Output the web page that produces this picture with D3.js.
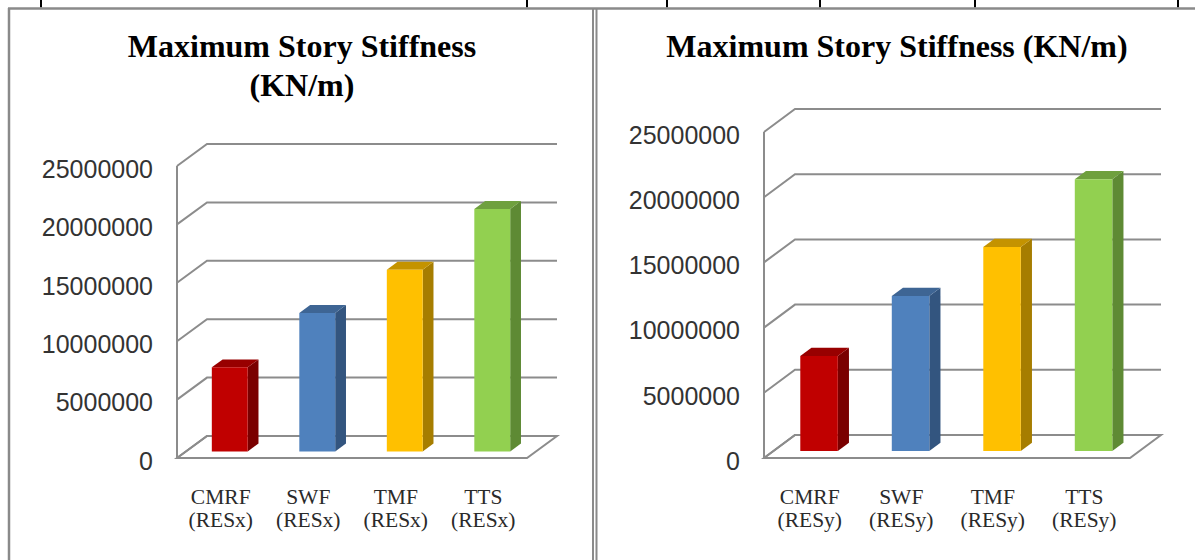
<!DOCTYPE html>
<html>
<head>
<meta charset="utf-8">
<script src="https://cdn.jsdelivr.net/npm/d3@7"></script>
<style>
  html, body { margin: 0; padding: 0; background: #ffffff; }
  svg { display: block; }
</style>
</head>
<body>
<svg id="chart" width="1195" height="560"></svg>
<script>
// ---- data ----
const categories = ["CMRF", "SWF", "TMF", "TTS"];
const stiffnessRESx = [7200000, 11850000, 15550000, 20750000];
const stiffnessRESy = [7300000, 11900000, 15650000, 20850000];
const yTicks = [0, 5000000, 10000000, 15000000, 20000000, 25000000];
const titleLinesX = ["Maximum Story Stiffness", "(KN/m)"];
const titleLinesY = ["Maximum Story Stiffness (KN/m)"];

// face colours per category: front, side, top
const frontColors = ["#C00000", "#4F81BD", "#FFC000", "#92D050"];
const sideColors  = ["#7A0000", "#33557F", "#A67D00", "#5E8A34"];
const topColors   = ["#980000", "#3E6594", "#C49300", "#6FA03E"];

const svg = d3.select("#chart");
const gridColor = "#8c8c8c";

// ---- page frame: table rules and the two panel borders ----
const frame = svg.append("g");
[41, 527, 667, 820, 975, 1178].forEach(x => {
  frame.append("line").attr("x1", x).attr("x2", x).attr("y1", 0).attr("y2", 7.5)
    .attr("stroke", "#000").attr("stroke-width", 2);
});
frame.append("line").attr("x1", 8).attr("x2", 1195).attr("y1", 8.5).attr("y2", 8.5)
  .attr("stroke", "#8a8a8a").attr("stroke-width", 2.5);
frame.append("line").attr("x1", 9).attr("x2", 9).attr("y1", 8).attr("y2", 560)
  .attr("stroke", "#8a8a8a").attr("stroke-width", 2.5);
frame.append("line").attr("x1", 593).attr("x2", 593).attr("y1", 8).attr("y2", 560)
  .attr("stroke", "#8a8a8a").attr("stroke-width", 2);
frame.append("line").attr("x1", 596.5).attr("x2", 596.5).attr("y1", 8).attr("y2", 560)
  .attr("stroke", "#8a8a8a").attr("stroke-width", 2);

// ---- one 3-D column chart ----
function drawPanel(cfg) {
  const g = svg.append("g");

  // front-plane scales
  const x = d3.scaleBand().domain(categories).range([cfg.axisX, cfg.floorRight]);
  const y = d3.scaleLinear().domain([0, 25000000]).range([cfg.zeroY, cfg.topY]);
  // depth projection: fraction 0 = front plane, 1 = back wall
  const proj = (px, py, f) => [px + f * cfg.dx, py + f * cfg.dy];
  const line = d3.line();

  // title
  const title = g.append("text")
    .attr("text-anchor", "middle")
    .attr("font-family", "'Liberation Serif', 'Times New Roman', serif")
    .attr("font-weight", "bold")
    .attr("font-size", 32)
    .attr("fill", "#000");
  cfg.title.forEach((t, i) => {
    title.append("tspan").attr("x", cfg.titleX).attr("y", cfg.titleY + i * 39).text(t);
  });

  // floor
  const floorPts = [
    [cfg.axisX, y(0)],
    proj(cfg.axisX, y(0), 1),
    proj(cfg.floorRight, y(0), 1),
    [cfg.floorRight, y(0)]
  ];
  g.append("path").attr("d", line(floorPts) + "Z")
    .attr("fill", "none").attr("stroke", gridColor).attr("stroke-width", 2)
    .attr("stroke-linejoin", "miter");

  // side wall edges and back-wall gridlines
  yTicks.forEach(v => {
    const pts = [[cfg.axisX, y(v)], proj(cfg.axisX, y(v), 1), proj(cfg.floorRight, y(v), 1)];
    g.append("path").attr("d", line(pts))
      .attr("fill", "none").attr("stroke", gridColor).attr("stroke-width", 2);
  });
  g.append("line")
    .attr("x1", cfg.axisX).attr("x2", cfg.axisX)
    .attr("y1", y(0)).attr("y2", y(25000000))
    .attr("stroke", gridColor).attr("stroke-width", 2);

  // value axis labels
  const axis = d3.axisLeft(y).tickValues(yTicks).tickSize(0).tickPadding(24)
    .tickFormat(d3.format("d"));
  const ax = g.append("g").attr("transform", `translate(${cfg.axisX},0)`).call(axis);
  ax.select(".domain").remove();
  ax.selectAll("text")
    .attr("dy", "0.45em")
    .attr("font-family", "'Liberation Sans', Arial, sans-serif")
    .attr("font-size", 25)
    .attr("fill", "#333");

  // columns
  const barW = x.bandwidth() * 0.41;
  const f0 = 0.3, f1 = 0.66;
  cfg.values.forEach((v, i) => {
    const cx = x(categories[i]) + x.bandwidth() / 2;
    const xl = cx - barW / 2, xr = cx + barW / 2;
    const yt = y(v), yb = y(0);
    const front = [proj(xl, yt, f0), proj(xr, yt, f0), proj(xr, yb, f0), proj(xl, yb, f0)];
    const side  = [proj(xr, yt, f0), proj(xr, yt, f1), proj(xr, yb, f1), proj(xr, yb, f0)];
    const top   = [proj(xl, yt, f0), proj(xl, yt, f1), proj(xr, yt, f1), proj(xr, yt, f0)];
    g.append("path").attr("d", line(side) + "Z").attr("fill", sideColors[i]);
    g.append("path").attr("d", line(top) + "Z").attr("fill", topColors[i]);
    g.append("path").attr("d", line(front) + "Z").attr("fill", frontColors[i]);
  });

  // category labels
  categories.forEach((c, i) => {
    const cx = x(c) + x.bandwidth() / 2;
    const t = g.append("text")
      .attr("text-anchor", "middle")
      .attr("font-family", "'Liberation Serif', 'Times New Roman', serif")
      .attr("font-size", 21.5)
      .attr("fill", "#2a2a2a");
    t.append("tspan").attr("x", cx).attr("y", 504).text(c);
    t.append("tspan").attr("x", cx).attr("y", 527).text(cfg.suffix);
  });
}

drawPanel({
  title: titleLinesX, titleX: 302, titleY: 57,
  values: stiffnessRESx, suffix: "(RESx)",
  axisX: 177, floorRight: 527, zeroY: 458, topY: 166, dx: 30, dy: -22
});
drawPanel({
  title: titleLinesY, titleX: 897, titleY: 57,
  values: stiffnessRESy, suffix: "(RESy)",
  axisX: 764, floorRight: 1130, zeroY: 458, topY: 132, dx: 31, dy: -23
});
</script>
</body>
</html>
